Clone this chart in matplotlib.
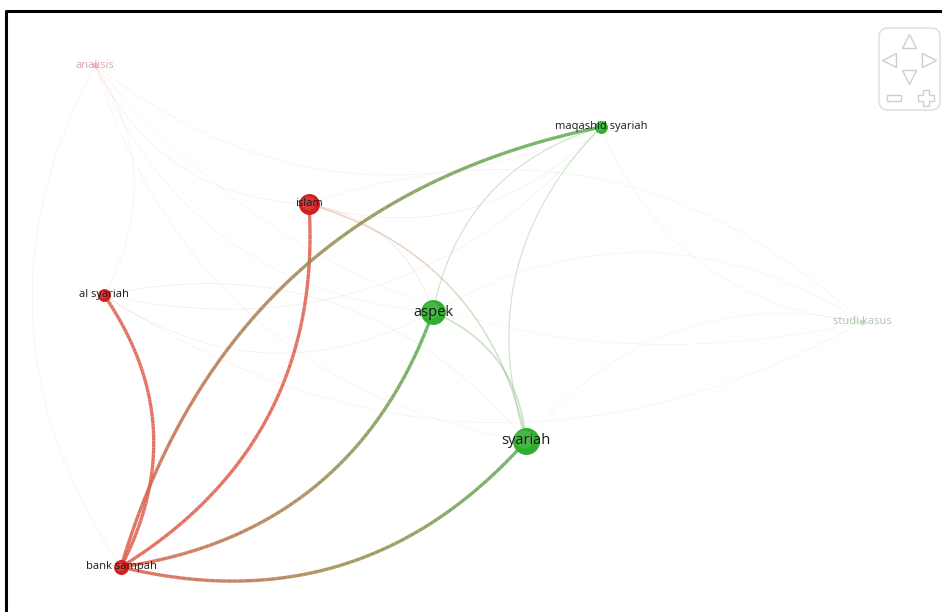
import numpy as np
import matplotlib
matplotlib.use("Agg")
import matplotlib.pyplot as plt
from matplotlib.collections import LineCollection
from matplotlib.colors import to_rgb
from matplotlib.patches import FancyBboxPatch

plt.rcParams['font.family'] = ['Open Sans', 'DejaVu Sans']

# nodes (map coordinates, pixels)
labels = ['analisis', 'maqashid syariah', 'islam', 'al syariah', 'aspek',
          'studi kasus', 'syariah', 'bank sampah']
node_x = [95, 601, 309, 104, 433, 862, 526, 121]
node_y = [65, 127, 204, 295, 312, 322, 441, 567]
node_r = [3, 6, 10, 6, 12, 3, 13, 7]
cluster = [1, 2, 1, 1, 2, 2, 2, 1]
faded = [True, False, False, False, False, True, False, False]

# edges: (from, to, weight)
edges = [
    ('bank sampah', 'syariah', 3.0),
    ('bank sampah', 'aspek', 3.0),
    ('bank sampah', 'islam', 3.0),
    ('bank sampah', 'al syariah', 3.0),
    ('maqashid syariah', 'bank sampah', 3.0),
    ('syariah', 'aspek', 1.6),
    ('maqashid syariah', 'syariah', 1.0),
    ('maqashid syariah', 'aspek', 1.0),
    ('syariah', 'islam', 1.4),
    ('aspek', 'islam', 0.8),
    ('analisis', 'islam', 0.6),
    ('analisis', 'aspek', 0.5),
    ('analisis', 'syariah', 0.5),
    ('analisis', 'bank sampah', 0.5),
    ('analisis', 'maqashid syariah', 0.5),
    ('al syariah', 'analisis', 0.5),
    ('al syariah', 'maqashid syariah', 0.5),
    ('al syariah', 'aspek', 0.5),
    ('syariah', 'al syariah', 0.5),
    ('al syariah', 'studi kasus', 0.5),
    ('islam', 'maqashid syariah', 0.5),
    ('maqashid syariah', 'studi kasus', 0.5),
    ('studi kasus', 'aspek', 0.5),
    ('studi kasus', 'syariah', 0.5),
    ('studi kasus', 'islam', 0.5),
    ('analisis', 'studi kasus', 0.4),
]

cluster_node = {1: '#d11f1f', 2: '#2fae2f'}
cluster_edge = {1: '#e0604f', 2: '#5cb256'}

fig = plt.figure(figsize=(9.42, 6.12), dpi=100)
ax = fig.add_axes([0, 0, 1, 1])
ax.set_xlim(0, 942)
ax.set_ylim(612, 0)
ax.axis('off')

idx = {l: i for i, l in enumerate(labels)}


def curve(p0, p1, k=0.3, n=80):
    p0 = np.array(p0, float)
    p1 = np.array(p1, float)
    d = p1 - p0
    c = (p0 + p1) / 2 + k * np.array([-d[1], d[0]])
    t = np.linspace(0, 1, n)[:, None]
    return (1 - t) ** 2 * p0 + 2 * (1 - t) * t * c + t ** 2 * p1


for a, b, w in edges:
    i, j = idx[a], idx[b]
    pts = curve((node_x[i], node_y[i]), (node_x[j], node_y[j]))
    segs = np.stack([pts[:-1], pts[1:]], axis=1)
    c0 = np.array(to_rgb(cluster_edge[cluster[i]]))
    c1 = np.array(to_rgb(cluster_edge[cluster[j]]))
    t = np.linspace(0, 1, len(segs))[:, None]
    cols = (1 - t) * c0 + t * c1
    if faded[i] or faded[j]:
        alpha = 0.13
    elif w >= 2:
        alpha = 0.88
    elif w >= 1:
        alpha = 0.32
    else:
        alpha = 0.16
    rgba = np.hstack([cols, np.full((len(segs), 1), alpha)])
    ax.add_collection(LineCollection(segs, colors=rgba, linewidths=w * 0.8,
                                     capstyle='butt', joinstyle='miter',
                                     zorder=1))

for i, l in enumerate(labels):
    col = cluster_node[cluster[i]]
    if faded[i]:
        ax.scatter(node_x[i], node_y[i], s=(node_r[i] * 1.44) ** 2, color=col,
                   alpha=0.25, linewidths=0, zorder=3)
    else:
        ax.scatter(node_x[i], node_y[i], s=(node_r[i] * 1.44) ** 2, color=col,
                   edgecolors=col, linewidths=0.6, zorder=3)
        ax.scatter(node_x[i] - node_r[i] * 0.15, node_y[i] - node_r[i] * 0.15,
                   s=(node_r[i] * 1.0) ** 2, color='white', alpha=0.12,
                   linewidths=0, zorder=3)

for i, l in enumerate(labels):
    fs = 10.5 if node_r[i] >= 12 else 8.0
    if faded[i]:
        tc = '#d8a8b0' if cluster[i] == 1 else '#b0c0b0'
    else:
        tc = '#1a1a1a'
    ax.text(node_x[i], node_y[i], l, ha='center', va='center', fontsize=fs,
            color=tc, zorder=4)

# frame
ax.plot([6, 6, 942], [612, 11, 11], color='black', lw=2.2, zorder=5,
        solid_capstyle='butt')

# navigation control
nav = FancyBboxPatch((879, 28), 61, 82, boxstyle='round,pad=0,rounding_size=9',
                     facecolor='white', edgecolor='#dcdcdc', lw=1.0, zorder=5)
ax.add_patch(nav)
gc = '#cfcfcf'
ax.plot(909, 41, marker='^', ms=10, mfc='none', mec=gc, mew=1.0, zorder=6)
ax.plot(889, 60, marker='<', ms=10, mfc='none', mec=gc, mew=1.0, zorder=6)
ax.plot(929, 60, marker='>', ms=10, mfc='none', mec=gc, mew=1.0, zorder=6)
ax.plot(909, 77, marker='v', ms=10, mfc='none', mec=gc, mew=1.0, zorder=6)
ax.add_patch(plt.Rectangle((887, 95), 14, 6, facecolor='none', edgecolor=gc,
                           lw=1.0, zorder=6))
ax.plot(926, 98, marker='P', ms=11, mfc='none', mec=gc, mew=1.0, zorder=6)

fig.savefig('out.png', dpi=100)
